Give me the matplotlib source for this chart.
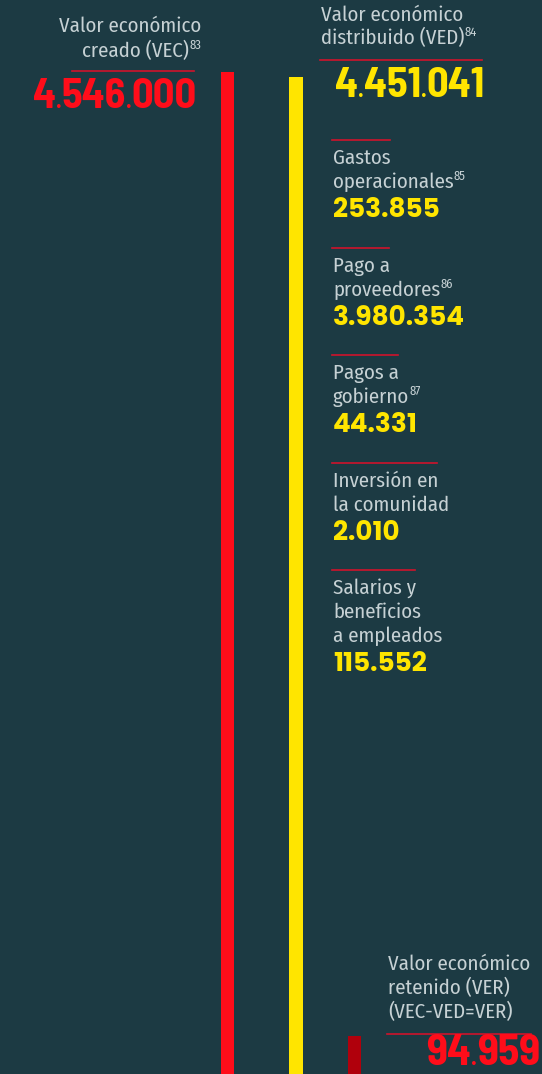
import matplotlib
matplotlib.use("Agg")
import matplotlib.pyplot as plt

# ---- data ----
vec_value = 4546000
ved_value = 4451041
ver_value = 94959
bar_values = [vec_value, ved_value, ver_value]

vec_label = ["Valor económico", "creado (VEC)"]
vec_note = "83"
ved_label = ["Valor económico", "distribuido (VED)"]
ved_note = "84"
ver_label = ["Valor económico", "retenido (VER)", "(VEC-VED=VER)"]

item_labels = [["Gastos", "operacionales"],
               ["Pago a", "proveedores"],
               ["Pagos a", "gobierno"],
               ["Inversión en", "la comunidad"],
               ["Salarios y", "beneficios", "a empleados"]]
item_notes = ["85", "86", "87", "", ""]
item_values = [253855, 3980354, 44331, 2010, 115552]

# ---- style ----
BG = "#1c3a43"
RED = "#ff0d1a"
DARKRED = "#b0000c"
YELLOW = "#ffe500"
LINE = "#d0132b"
TXT = "#c6d1d4"
LABEL_FONT = ["Fira Sans Condensed", "DejaVu Sans"]
BIG_FONT = ["Barlow Semi Condensed", "DejaVu Sans"]
NUM_FONT = ["Poppins", "Lato", "DejaVu Sans"]

W, H = 542, 1074
fig = plt.figure(figsize=(W / 100, H / 100), dpi=100, facecolor=BG)

# bars (log scale so the retained value stays visible)
axb = fig.add_axes([0, 0, 1, 1])
axb.set_facecolor(BG)
axb.set_xlim(0, W)
axb.set_yscale("log")
axb.set_ylim(81500, 6.07e6)
axb.bar([227.5, 296, 354.5], bar_values, width=[13, 14, 13], bottom=1,
        color=[RED, YELLOW, DARKRED], linewidth=0)
axb.axis("off")

# text layer in pixel coordinates
ax = fig.add_axes([0, 0, 1, 1])
ax.set_xlim(0, W)
ax.set_ylim(H, 0)
ax.patch.set_alpha(0)
ax.axis("off")

renderer = fig.canvas.get_renderer()


def width_of(t):
    return t.get_window_extent(renderer).width


def put(x, y, s, size, color=TXT, family=LABEL_FONT, weight="normal", ha="left"):
    return ax.text(x, y, s, fontsize=size, color=color, family=family,
                   fontweight=weight, ha=ha, va="baseline")


def label_with_note(x, y, s, note, ha="left", size=15):
    if ha == "left":
        t = put(x, y, s, size)
        if note:
            put(x + width_of(t), y - 8, note, 9)
        return t
    # right aligned: note ends at x
    shift = 0
    if note:
        n = put(x, y - 8, note, 9, ha="right")
        shift = width_of(n)
    return put(x - shift, y, s, size, ha="right")


def fmt(v):
    return f"{v:,}".replace(",", ".")


def big_number(x, y, v, size, color, ha="right"):
    # groups in a condensed face with tiny dots between them
    parts = fmt(v).split(".")
    pieces = []
    for i, p in enumerate(parts):
        pieces.append((p, size))
        if i < len(parts) - 1:
            pieces.append((".", size * 0.55))
    arts = [put(0, y, s, sz, color=color, family=BIG_FONT, weight="bold") for s, sz in pieces]
    widths = [width_of(a) for a in arts]
    start = x - sum(widths) if ha == "right" else x
    for a, w in zip(arts, widths):
        a.set_x(start)
        start += w


# VEC header
label_with_note(201, 32, vec_label[0], "", ha="right")
label_with_note(201, 57, vec_label[1], vec_note, ha="right")
ax.plot([72, 194], [71, 71], color=LINE, lw=1.2)
big_number(197, 108, vec_value, 30.5, RED)

# VED header
label_with_note(321, 21, ved_label[0], "")
label_with_note(321, 44, ved_label[1], ved_note)
ax.plot([320, 482], [60, 60], color=LINE, lw=1.2)
big_number(485, 97, ved_value, 30.5, YELLOW)

# distributed items
line_y = [140, 248, 355, 463, 570]
for ly, lines, note, val in zip(line_y, item_labels, item_notes, item_values):
    y = ly + 24
    for j, s in enumerate(lines):
        t = label_with_note(333, y, s, note if j == len(lines) - 1 else "")
        if j == 0:
            ax.plot([332, 332 + width_of(t)], [ly, ly], color=LINE, lw=1.2)
        y += 24
    put(333, y + 5, fmt(val), 19, color=YELLOW, family=NUM_FONT, weight="bold")

# VER block
y = 970
for s in ver_label:
    t = label_with_note(388, y, s, "")
    y += 24
ax.plot([387, 531], [1034, 1034], color=LINE, lw=1.2)
big_number(540, 1065, ver_value, 31.5, RED)

fig.savefig("out.png", dpi=100, facecolor=BG)
